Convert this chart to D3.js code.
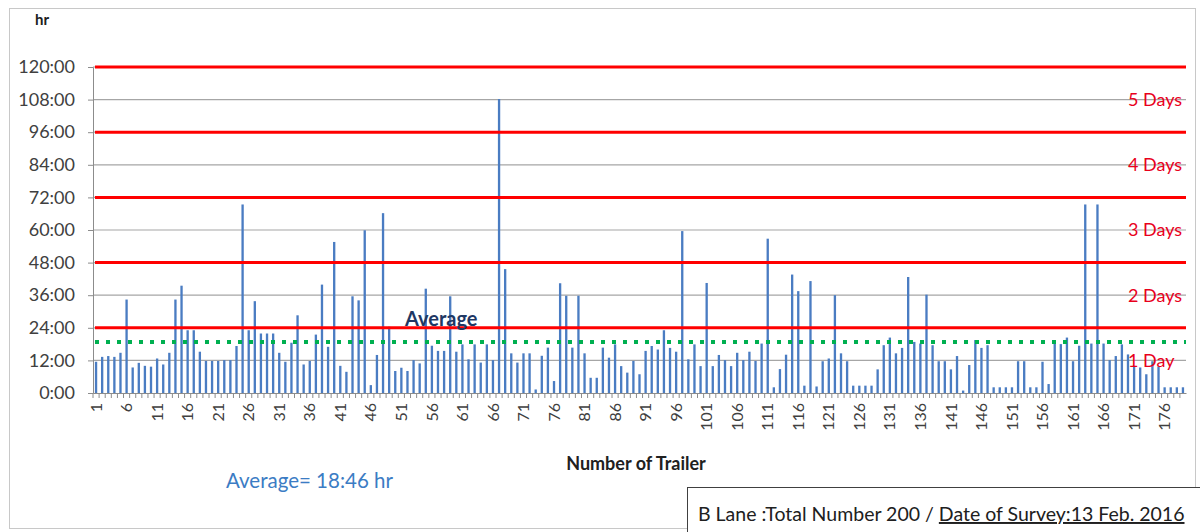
<!DOCTYPE html>
<html>
<head>
<meta charset="utf-8">
<script src="https://cdn.jsdelivr.net/npm/d3@7"></script>
<style>
  html, body { margin: 0; padding: 0; background: #ffffff; }
  svg { display: block; font-family: Lato, "Open Sans", sans-serif; }
</style>
</head>
<body>
<svg id="chart" width="1200" height="532"></svg>
<script>
// Dwell time per trailer in B Lane, in hours
const dwellHours = [
  11.5, 13.3, 13.6, 13.3, 14.8, 34.4, 9.4, 11.1, 10.0, 9.7,
  12.7, 10.5, 14.8, 34.4, 39.5, 23.1, 23.1, 15.2, 11.8, 11.8,
  11.8, 12.1, 12.1, 17.3, 69.4, 23.1, 33.8, 21.9, 21.9, 21.9,
  14.8, 11.5, 18.5, 28.6, 10.5, 11.8, 21.5, 39.9, 17.0, 55.6,
  10.0, 7.8, 35.6, 34.1, 59.9, 2.9, 14.0, 66.2, 24.4, 8.1,
  9.3, 8.1, 12.1, 10.9, 38.4, 17.4, 15.5, 15.5, 35.6, 15.2,
  17.9, 12.4, 17.9, 11.2, 17.9, 12.1, 108.2, 45.6, 14.6, 11.2,
  14.6, 14.6, 1.3, 13.7, 16.7, 4.4, 40.4, 35.8, 16.7, 35.8,
  14.6, 5.6, 5.6, 16.7, 13.0, 17.9, 9.9, 7.5, 11.8, 6.9,
  15.5, 17.3, 16.0, 23.1, 16.6, 15.2, 59.6, 12.4, 17.9, 9.9,
  40.5, 9.9, 14.0, 12.1, 9.9, 14.8, 12.1, 15.2, 11.8, 18.2,
  56.8, 2.1, 8.8, 14.1, 43.6, 37.5, 2.7, 41.2, 2.4, 11.7,
  12.7, 36.0, 14.6, 11.7, 2.7, 2.7, 2.7, 2.7, 8.7, 17.6,
  20.4, 14.6, 16.6, 42.7, 18.8, 18.2, 36.2, 17.6, 11.7, 11.7,
  8.7, 13.6, 0.9, 10.3, 19.5, 16.6, 17.6, 2.1, 2.1, 2.1,
  2.1, 11.7, 11.7, 2.1, 2.1, 11.5, 3.3, 18.2, 18.0, 20.4,
  11.7, 17.4, 69.4, 18.2, 69.4, 18.2, 12.1, 13.6, 17.9, 14.2,
  10.0, 9.4, 6.9, 11.7, 9.7, 2.1, 2.1, 2.1, 2.1
];

// Trailer numbers along the category axis
const trailerNumbers = dwellHours.map((_, i) => i + 1);
const trailerTickLabels = trailerNumbers.filter(n => (n - 1) % 5 === 0);

// Hour axis ticks
const hourTicks = [0, 12, 24, 36, 48, 60, 72, 84, 96, 108, 120];

// Whole-day thresholds and their labels
const dayLineHours = [24, 48, 72, 96, 120];
const dayLabelHours = [12, 36, 60, 84, 108];
const dayLabelTexts = ["1 Day", "2 Days", "3 Days", "4 Days", "5 Days"];

// Average dwell time: 18:46
const averageHours = 18 + 46 / 60;
const averageText = "Average= 18:46 hr";
const footnoteLead = "B Lane :Total Number 200 / ";
const footnoteDate = "Date of Survey:13 Feb. 2016";

const svg = d3.select("#chart");
const plot = { left: 93, right: 1186, top: 67, bottom: 393 };

const x = d3.scaleBand()
  .domain(trailerNumbers)
  .range([plot.left, plot.right])
  .paddingInner(0.62)
  .paddingOuter(0.31);

const y = d3.scaleLinear()
  .domain([0, 120])
  .range([plot.bottom, plot.top]);

// Outer chart frame
svg.append("rect")
  .attr("x", 9.5).attr("y", 8.5)
  .attr("width", 1186).attr("height", 520)
  .attr("fill", "none")
  .attr("stroke", "#c8c8c8")
  .attr("stroke-width", 1);

// Horizontal gridlines
svg.append("g")
  .selectAll("line")
  .data(hourTicks.filter(h => h > 0))
  .join("line")
  .attr("x1", plot.left).attr("x2", plot.right)
  .attr("y1", d => y(d)).attr("y2", d => y(d))
  .attr("stroke", "#a6a6a6")
  .attr("stroke-width", 1.2);

// Y axis
const yAxis = d3.axisLeft(y)
  .tickValues(hourTicks)
  .tickFormat(h => `${h}:00`)
  .tickSize(5)
  .tickPadding(13);

const yAxisG = svg.append("g")
  .attr("transform", `translate(${plot.left},0)`)
  .call(yAxis);
yAxisG.select(".domain").attr("stroke", "#8c8c8c");
yAxisG.selectAll(".tick line").attr("stroke", "#8c8c8c");
yAxisG.selectAll(".tick text")
  .attr("fill", "#404040")
  .style("font-size", "18px")
  .style("font-family", "Lato, sans-serif");

// Bars
svg.append("g")
  .selectAll("rect")
  .data(dwellHours)
  .join("rect")
  .attr("x", (d, i) => x(trailerNumbers[i]))
  .attr("width", x.bandwidth())
  .attr("y", d => y(d))
  .attr("height", d => y(0) - y(d))
  .attr("fill", "#4a7cc2");

// X axis
const xAxis = d3.axisBottom(x)
  .tickValues(trailerTickLabels)
  .tickSize(0)
  .tickPadding(8);

const xAxisG = svg.append("g")
  .attr("transform", `translate(0,${plot.bottom})`)
  .call(xAxis);
xAxisG.select(".domain").attr("stroke", "#8c8c8c");
xAxisG.selectAll(".tick text")
  .attr("fill", "#404040")
  .style("font-size", "16px")
  .style("font-family", "Lato, sans-serif")
  .attr("text-anchor", "end")
  .attr("dy", "0.35em")
  .attr("transform", "translate(0,2) rotate(-90)")
  .attr("x", -8)
  .attr("y", 0);

// Tick marks for every category
svg.append("g")
  .selectAll("line")
  .data(trailerNumbers)
  .join("line")
  .attr("x1", d => x(d) - (x.step() - x.bandwidth()) / 2)
  .attr("x2", d => x(d) - (x.step() - x.bandwidth()) / 2)
  .attr("y1", plot.bottom)
  .attr("y2", plot.bottom + 5)
  .attr("stroke", "#8c8c8c")
  .attr("stroke-width", 1);

// Red day thresholds
svg.append("g")
  .selectAll("line")
  .data(dayLineHours)
  .join("line")
  .attr("x1", plot.left + 2).attr("x2", plot.right)
  .attr("y1", d => y(d)).attr("y2", d => y(d))
  .attr("stroke", "#ff0000")
  .attr("stroke-width", 3);

// Day labels
svg.append("g")
  .selectAll("text")
  .data(dayLabelHours)
  .join("text")
  .attr("x", 1128)
  .attr("y", d => y(d))
  .attr("dy", "0.35em")
  .attr("fill", "#e8001c")
  .style("font-size", "18px")
  .text((d, i) => dayLabelTexts[i]);

// Average line
svg.append("line")
  .attr("x1", plot.left + 2).attr("x2", plot.right)
  .attr("y1", y(averageHours)).attr("y2", y(averageHours))
  .attr("stroke", "#00b050")
  .attr("stroke-width", 4)
  .attr("stroke-dasharray", "4 7");

svg.append("text")
  .attr("x", 405)
  .attr("y", 326)
  .attr("fill", "#1f3864")
  .style("font-size", "20px")
  .style("font-weight", "bold")
  .text("Average");

// Axis titles
svg.append("text")
  .attr("x", 35).attr("y", 25)
  .attr("fill", "#202020")
  .style("font-size", "15px")
  .style("font-weight", "bold")
  .text("hr");

svg.append("text")
  .attr("x", 636).attr("y", 470)
  .attr("text-anchor", "middle")
  .attr("fill", "#202020")
  .style("font-size", "18px")
  .style("font-weight", "bold")
  .text("Number of Trailer");

// Average annotation
svg.append("text")
  .attr("x", 226).attr("y", 488)
  .attr("fill", "#3b7cc4")
  .style("font-size", "20.5px")
  .text(averageText);

// Survey note box
svg.append("rect")
  .attr("x", 687.5).attr("y", 487.5)
  .attr("width", 530).attr("height", 60)
  .attr("fill", "#ffffff")
  .attr("stroke", "#404040")
  .attr("stroke-width", 1);

const note = svg.append("text")
  .attr("x", 698).attr("y", 521)
  .attr("fill", "#202020")
  .style("font-size", "19.5px");
note.append("tspan").text(footnoteLead);
note.append("tspan")
  .style("text-decoration", "underline")
  .text(footnoteDate);
</script>
</body>
</html>
